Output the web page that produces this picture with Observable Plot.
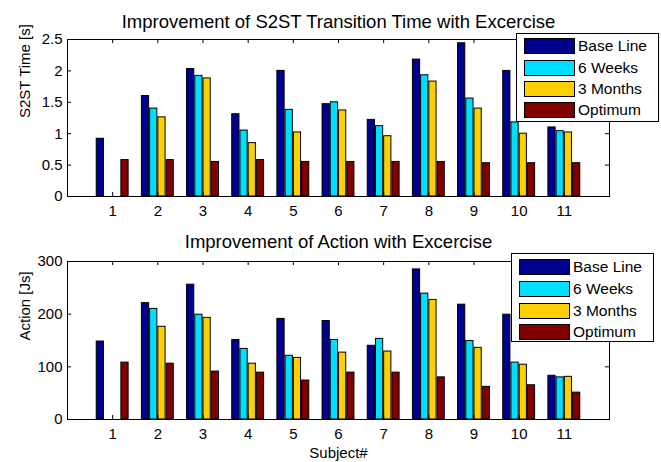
<!DOCTYPE html>
<html><head><meta charset="utf-8">
<script src="https://cdn.jsdelivr.net/npm/d3@7"></script>
<script src="https://cdn.jsdelivr.net/npm/@observablehq/plot@0.6"></script>
<style>
body{margin:0;background:#fff;font-family:"Liberation Sans",Arial,sans-serif;}
#wrap{position:relative;width:661px;height:462px;overflow:hidden;}
#wrap svg{display:block;}
.legend{position:absolute;background:#fff;border:1px solid #000;box-sizing:border-box;width:143px;height:89px;}
.legend .sw{position:absolute;left:7px;width:51px;height:16px;border:1px solid #000;box-sizing:border-box;}
.legend .lb{position:absolute;left:61px;font-size:15.5px;line-height:16px;color:#000;white-space:nowrap;}
</style></head>
<body><div id="wrap"></div>
<script>
const subjects = [1,2,3,4,5,6,7,8,9,10,11];
const seriesNames = ["Base Line","6 Weeks","3 Months","Optimum"];
const seriesColors = ["#00008f","#00dfff","#ffd000","#800000"];

const s2stBase = [0.92,1.60,2.03,1.31,2.00,1.47,1.22,2.18,2.44,2.00,1.10];
const s2st6W   = [null,1.40,1.92,1.05,1.38,1.50,1.12,1.93,1.56,1.18,1.04];
const s2st3M   = [null,1.26,1.88,0.85,1.02,1.37,0.96,1.83,1.40,1.00,1.02];
const s2stOpt  = [0.58,0.58,0.55,0.58,0.55,0.55,0.55,0.55,0.53,0.53,0.53];

const actBase = [148,221,256,151,191,187,140,285,218,199,83];
const act6W   = [null,210,199,134,121,151,153,239,149,108,80];
const act3M   = [null,176,193,106,117,127,129,227,136,104,81];
const actOpt  = [108,106,91,89,74,89,89,80,62,65,51];

const s2stTicks = [0,0.5,1,1.5,2,2.5];
const actTicks = [0,100,200,300];

function rows(arrs){
  const out=[];
  arrs.forEach((arr,k)=>arr.forEach((v,i)=>{ if(v!=null) out.push({subject:subjects[i],k,series:seriesNames[k],value:v}); }));
  return out;
}
const step=0.182, half=0.08;
function chart({data, yDomain, yTicks, title, ylabel, xlabel, height, mt, mb, titleDy, tickLenY}){
  const ml=67, mr=52;
  return Plot.plot({
    width:661, height, marginLeft:ml, marginRight:mr, marginTop:mt, marginBottom:mb,
    style:{fontFamily:'"Liberation Sans",Arial,sans-serif', fontSize:"15px", color:"#000", background:"#fff"},
    x:{domain:[0,12]}, y:{domain:yDomain},
    color:{domain:seriesNames, range:seriesColors},
    marks:[
      Plot.rect(data,{x1:d=>d.subject+(d.k-1.5)*step-half, x2:d=>d.subject+(d.k-1.5)*step+half, y1:0, y2:"value", fill:"series", stroke:"#000", strokeWidth:1}),
      Plot.frame({stroke:"#000"}),
      Plot.ruleX(subjects,{x:d=>d, y1:yDomain[0], y2:yDomain[0]+tickLenY, stroke:"#000"}),
      Plot.ruleX(subjects,{x:d=>d, y1:yDomain[1]-tickLenY, y2:yDomain[1], stroke:"#000"}),
      Plot.ruleY(yTicks,{y:d=>d, x1:0, x2:0.09, stroke:"#000"}),
      Plot.ruleY(yTicks,{y:d=>d, x1:11.91, x2:12, stroke:"#000"}),
      Plot.axisX({ticks:subjects, tickFormat:d=>String(d), tickSize:0, tickPadding:9, fontSize:15, label:null}),
      Plot.axisY({ticks:yTicks, tickFormat:d=>String(d), tickSize:0, tickPadding:5, fontSize:15, label:null}),
      Plot.text([title],{text:d=>d, frameAnchor:"top", lineAnchor:"middle", dy:titleDy, fontSize:18.5, fill:"#000"}),
      Plot.text([ylabel],{text:d=>d, frameAnchor:"left", lineAnchor:"middle", rotate:-90, dx:-42, fontSize:15, fill:"#000"}),
      ...(xlabel ? [Plot.text([xlabel],{text:d=>d, frameAnchor:"bottom", lineAnchor:"middle", dy:34, fontSize:15, fill:"#000"})] : [])
    ]
  });
}
const wrap=document.getElementById("wrap");
wrap.appendChild(chart({data:rows([s2stBase,s2st6W,s2st3M,s2stOpt]), yDomain:[0,2.5], yTicks:s2stTicks,
  title:"Improvement of S2ST Transition Time with Excercise", ylabel:"S2ST Time [s]", height:231, mt:39, mb:35, titleDy:-17.5, tickLenY:0.065}));
wrap.appendChild(chart({data:rows([actBase,act6W,act3M,actOpt]), yDomain:[0,300], yTicks:actTicks,
  title:"Improvement of Action with Excercise", ylabel:"Action [Js]", xlabel:"Subject#", height:231, mt:30, mb:43, titleDy:-19.5, tickLenY:7.7}));

function legend(left, top, centers){
  const box=document.createElement("div");
  box.className="legend"; box.style.left=left+"px"; box.style.top=top+"px";
  seriesNames.forEach((n,i)=>{
    const sw=document.createElement("div"); sw.className="sw";
    sw.style.top=(centers[i]-8)+"px"; sw.style.background=seriesColors[i];
    const lb=document.createElement("div"); lb.className="lb";
    lb.style.top=(centers[i]-8)+"px"; lb.textContent=n;
    box.appendChild(sw); box.appendChild(lb);
  });
  wrap.appendChild(box);
}
legend(516, 33, [12, 33.5, 55, 76]);
legend(511, 253, [13, 35, 56.5, 77.5]);
</script>
</body></html>
